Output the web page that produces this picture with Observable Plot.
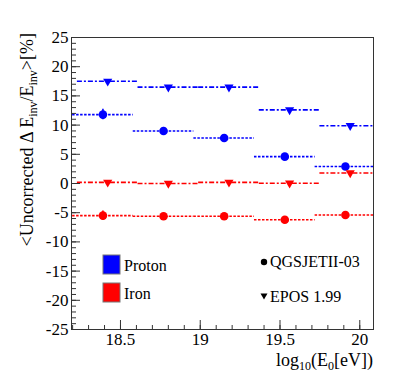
<!DOCTYPE html>
<html><head><meta charset="utf-8">
<script src="https://cdn.jsdelivr.net/npm/d3@7"></script>
<script src="https://cdn.jsdelivr.net/npm/@observablehq/plot@0.6"></script>
<style>body{margin:0;background:#fff} svg, svg text, svg g{font-family:"Liberation Serif",serif !important}</style>
</head><body><div id="chart"></div>
<script>
// bin centres in log10(E0/eV)
const energyQGS = [18.39, 18.77, 19.15, 19.53, 19.91];
const energyEPOS = [18.42, 18.80, 19.18, 19.56, 19.94];
const binHalfWidth = 0.19;
// mean uncorrected bias [%]
const protonQGS = [11.8, 9.0, 7.8, 4.6, 2.9];
const protonQGSErr = [0.9, 0.6, 0.3, 0.3, 0.3];
const protonEPOS = [17.5, 16.5, 16.5, 12.6, 9.9];
const ironEPOS = [0.2, 0.0, 0.2, 0.05, 1.8];
const ironQGS = [-5.5, -5.6, -5.6, -6.2, -5.4];
const ironQGSErr = [0.8, 0.3, 0.3, 0.3, 0.3];
const legendPrimaries = ["Proton", "Iron"];
const legendModels = ["QGSJETII-03", "EPOS 1.99"];
const blue = "#0000ff", red = "#ff0000";
const serif = "'Liberation Serif', serif";

function series(xs, ys, errs, color, model) {
  return xs.map((x, i) => ({x, y: ys[i], e: errs ? errs[i] : 0, color, model}));
}
const qgs = [...series(energyQGS, protonQGS, protonQGSErr, blue, "QGS"), ...series(energyQGS, ironQGS, ironQGSErr, red, "QGS")];
const epos = [...series(energyEPOS, protonEPOS, null, blue, "EPOS"), ...series(energyEPOS, ironEPOS, null, red, "EPOS")];

const yMinor = d3.range(-25, 26, 1);
const yMajor = d3.range(-25, 26, 5);
const xMinor = d3.range(182, 201).map(d => d / 10);
const xMajor = [18.5, 19, 19.5, 20];

const chart = Plot.plot({
  width: 415, height: 374,
  marginLeft: 71, marginRight: 42, marginTop: 37, marginBottom: 45,
  style: {fontFamily: serif, fontSize: "17px", background: "white", color: "black"},
  x: {domain: [18.193, 20.086]},
  y: {domain: [-25, 25]},
  marks: [
    Plot.ruleY(epos, {y: "y", x1: d => d.x - binHalfWidth, x2: d => d.x + binHalfWidth, stroke: "color", strokeWidth: 1.6, strokeDasharray: "5,2,2,2", clip: true}),
    Plot.ruleY(qgs, {y: "y", x1: d => d.x - binHalfWidth, x2: d => d.x + binHalfWidth, stroke: "color", strokeWidth: 1.6, strokeDasharray: "2.5,1.5", clip: true}),
    Plot.ruleX(qgs, {x: "x", y1: d => d.y - d.e, y2: d => d.y + d.e, stroke: "color", strokeWidth: 1.6}),
    Plot.dot(qgs, {x: "x", y: "y", r: 4.3, fill: "color", stroke: "none", symbol: "circle"}),
    Plot.dot(epos, {x: "x", y: "y", r: 3.4, fill: "color", stroke: "none", symbol: "triangle", rotate: 180}),
    Plot.axisY(yMinor, {tickSize: -5, text: null, label: null, stroke: "#333"}),
    Plot.axisY(yMajor, {tickSize: -9, text: null, label: null, stroke: "#333"}),
    Plot.axisY(yMajor, {tickSize: 0, tickPadding: 3, label: null, fontSize: 17, fontFamily: serif, tickFormat: d => String(d)}),
    Plot.axisX(xMinor, {tickSize: -4, text: null, label: null, stroke: "#333"}),
    Plot.axisX(xMajor, {tickSize: -9, text: null, label: null, stroke: "#333"}),
    Plot.axisX(xMajor, {tickSize: 0, tickPadding: 3, label: null, fontSize: 17, fontFamily: serif, tickFormat: d => String(d)}),
    Plot.frame({stroke: "#333", strokeWidth: 1})
  ]
});
document.getElementById("chart").appendChild(chart);

const svg = d3.select(chart);
// y label
const yl = svg.append("text").attr("transform", "translate(33,33) rotate(-90)")
  .attr("text-anchor", "end").attr("font-size", 18).attr("fill", "black");
yl.append("tspan").text("<Uncorrected \u0394 E");
yl.append("tspan").attr("font-size", 12).attr("dy", 4).text("inv");
yl.append("tspan").attr("dy", -4).text("/E");
yl.append("tspan").attr("font-size", 12).attr("dy", 4).text("inv");
yl.append("tspan").attr("dy", -4).text(">[%]");
// x label
const xl = svg.append("text").attr("x", 373).attr("y", 366)
  .attr("text-anchor", "end").attr("font-size", 18).attr("fill", "black");
xl.append("tspan").text("log");
xl.append("tspan").attr("font-size", 12).attr("dy", 4).text("10");
xl.append("tspan").attr("dy", -4).text("(E");
xl.append("tspan").attr("font-size", 12).attr("dy", 4).text("0");
xl.append("tspan").attr("dy", -4).text("[eV])");

// legend
const legColors = [blue, red];
legendPrimaries.forEach((name, i) => {
  const y0 = 255 + i * 28;
  svg.append("rect").attr("x", 103).attr("y", y0).attr("width", 17).attr("height", 19)
    .attr("fill", legColors[i]).attr("stroke", "#777").attr("stroke-width", 1);
  svg.append("text").attr("x", 124).attr("y", y0 + 16).attr("font-size", 16)
    .attr("text-anchor", "start").text(name);
});
legendModels.forEach((name, i) => {
  const y0 = 267 + i * 35;
  if (i === 0) svg.append("circle").attr("cx", 264).attr("cy", y0 - 5).attr("r", 3.2).attr("fill", "black");
  else svg.append("path").attr("transform", `translate(264,${y0 - 6})`).attr("d", "M-3.5,-2.5L3.5,-2.5L0,3.5Z").attr("fill", "black");
  svg.append("text").attr("x", 270).attr("y", y0).attr("font-size", 16)
    .attr("text-anchor", "start").text(name);
});
</script>
</body></html>
